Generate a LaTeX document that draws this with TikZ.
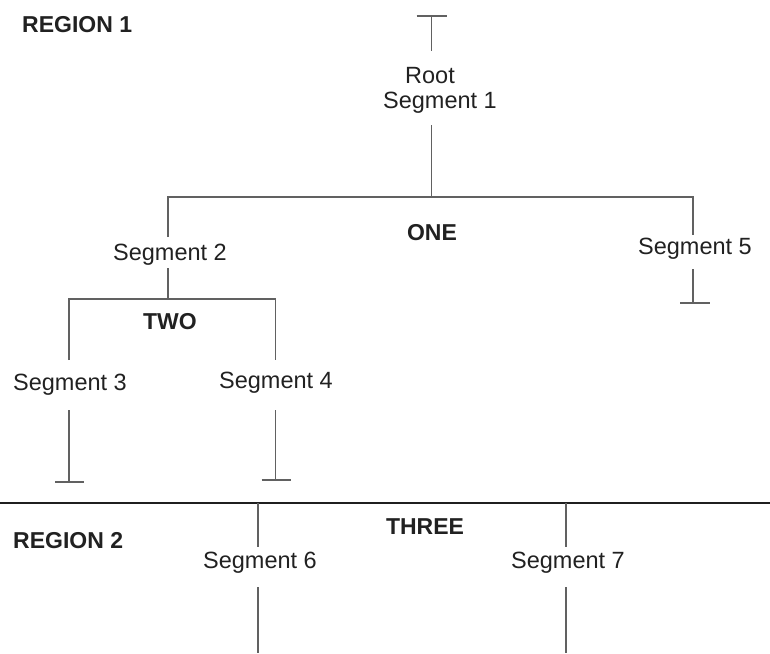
\documentclass[tikz,border=0pt]{standalone}
\usepackage{fontspec}
\setmainfont{Liberation Sans}
\begin{document}
\begin{tikzpicture}[x=1pt,y=-1pt,
  lbl/.style={inner sep=0pt, anchor=base, text=black!87, font=\fontsize{23.5pt}{28pt}\selectfont},
  blbl/.style={lbl, font=\fontsize{23pt}{28pt}\selectfont\bfseries},
  conn/.style={draw=black!62, line width=1.1pt},
  sep/.style={draw=black!88, line width=1.5pt}]
\useasboundingbox (0,0) rectangle (770,653);
% labels
\node[blbl, anchor=base west] (reg1) at (22,32) {REGION 1};
\node[blbl, anchor=base west] (reg2) at (13,548) {REGION 2};
\node[lbl] (root) at (430,83) {Root};
\node[lbl] (seg1) at (440,108) {Segment 1};
\node[blbl] (one) at (432,240) {ONE};
\node[lbl] (seg2) at (170,260) {Segment 2};
\node[lbl] (seg5) at (695,254) {Segment 5};
\node[blbl] (two) at (170,329) {TWO};
\node[lbl] (seg3) at (70,390) {Segment 3};
\node[lbl] (seg4) at (276,388) {Segment 4};
\node[blbl] (three) at (425,534) {THREE};
\node[lbl] (seg6) at (260,568) {Segment 6};
\node[lbl] (seg7) at (568,568) {Segment 7};
% coordinates
\coordinate (rt) at (431.7,16);
\coordinate (rb) at (431.7,51);
\coordinate (ra) at (431.7,125);
\coordinate (oc) at (431.7,197);
\coordinate (ol) at (168,197);
\coordinate (or) at (693,197);
\coordinate (s2a) at (168,237);
\coordinate (s5a) at (693,235);
\coordinate (s5b) at (693,269);
\coordinate (s5e) at (693,303);
\coordinate (s2b) at (168,268);
\coordinate (tc) at (168,299);
\coordinate (tl) at (69,299);
\coordinate (tr) at (275.7,299);
\coordinate (s3a) at (69,360);
\coordinate (s4a) at (275.7,360);
\coordinate (s3b) at (69,410);
\coordinate (s3e) at (69,482);
\coordinate (s4b) at (275.7,410);
\coordinate (s4e) at (275.7,480);
\coordinate (gl) at (0,503);
\coordinate (gr) at (770,503);
\coordinate (s6t) at (258,503);
\coordinate (s6a) at (258,547);
\coordinate (s6b) at (258,587);
\coordinate (s6e) at (258,653);
\coordinate (s7t) at (566,503);
\coordinate (s7a) at (566,547);
\coordinate (s7b) at (566,587);
\coordinate (s7e) at (566,653);
% connectors
\draw[conn] ([xshift=-15pt]rt) -- ([xshift=15pt]rt);
\draw[conn] (rt) -- (rb);
\draw[conn] (ra) -- (oc);
\draw[conn] (s2a) -- (ol) -- (or) -- (s5a);
\draw[conn] (s5b) -- (s5e);
\draw[conn] ([xshift=-13pt]s5e) -- ([xshift=17pt]s5e);
\draw[conn] (s2b) -- (tc);
\draw[conn] (s3a) -- (tl) -- (tr) -- (s4a);
\draw[conn] (s3b) -- (s3e);
\draw[conn] ([xshift=-14pt]s3e) -- ([xshift=15pt]s3e);
\draw[conn] (s4b) -- (s4e);
\draw[conn] ([xshift=-14pt]s4e) -- ([xshift=15pt]s4e);
\draw[sep] (gl) -- (gr);
\draw[conn] (s6t) -- (s6a);
\draw[conn] (s6b) -- (s6e);
\draw[conn] (s7t) -- (s7a);
\draw[conn] (s7b) -- (s7e);
\end{tikzpicture}
\end{document}
